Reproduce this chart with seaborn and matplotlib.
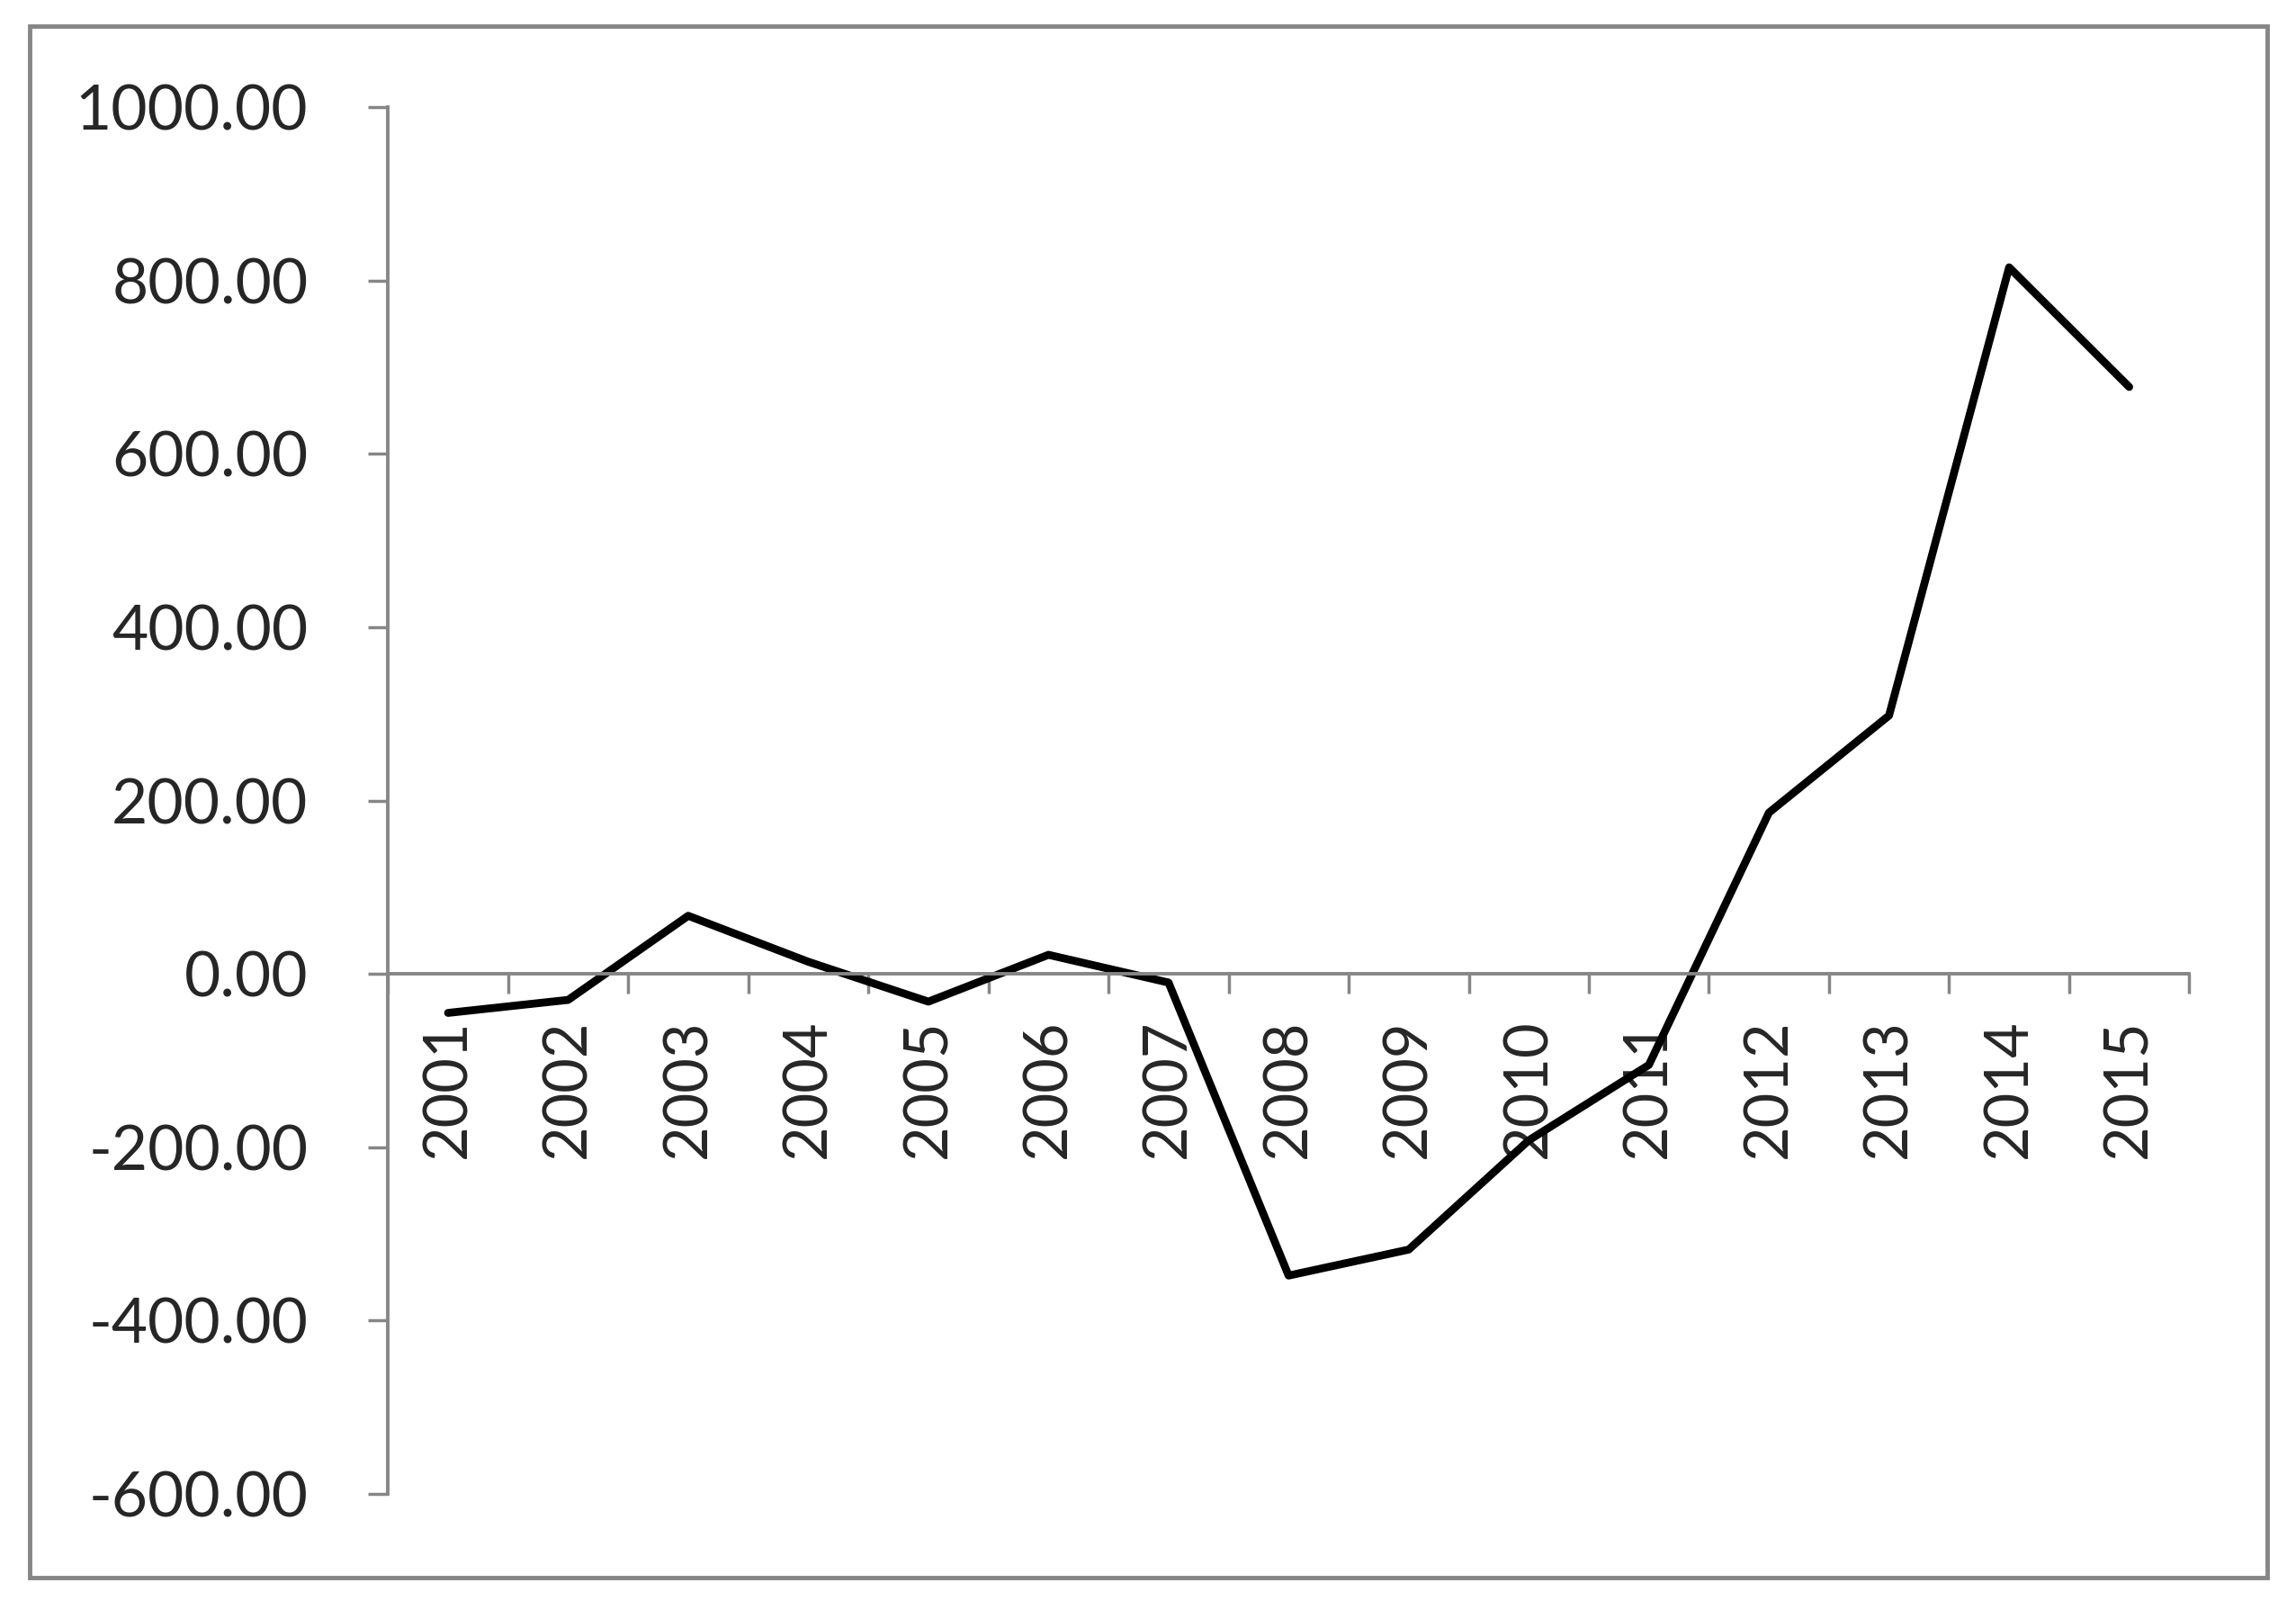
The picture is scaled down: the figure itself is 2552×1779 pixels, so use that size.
import numpy as np
import pandas as pd
import seaborn as sns
import matplotlib
matplotlib.use('Agg')
import matplotlib.pyplot as plt
from matplotlib.ticker import FormatStrFormatter

years = ['2001', '2002', '2003', '2004', '2005', '2006', '2007', '2008',
         '2009', '2010', '2011', '2012', '2013', '2014', '2015']
values = [-45, -30, 67, 14, -32, 22, -10, -348, -318, -192, -105, 186, 298, 815, 677]
yticks = [-600, -400, -200, 0, 200, 400, 600, 800, 1000]

sns.set_style('white')
plt.rcParams['font.family'] = ['Lato', 'DejaVu Sans']

grey = '#868686'

df = pd.DataFrame({'pos': np.arange(len(years)), 'value': values})

fig = plt.figure(figsize=(25.52, 17.79), dpi=100)
ax = fig.add_axes([0.169, 0.0668, 0.7845, 0.8664])

sns.lineplot(data=df, x='pos', y='value', ax=ax, color='black', lw=6.3)

ax.set_xlim(-0.5, len(years) - 0.5)
ax.set_ylim(-600, 1000)
ax.set_yticks(yticks)
ax.yaxis.set_major_formatter(FormatStrFormatter('%.2f'))

ax.set_xticks(np.arange(len(years)))
ax.set_xticks(np.arange(-0.5, len(years), 1), minor=True)
ax.tick_params(axis='x', which='major', bottom=True, length=0, pad=36,
               labelsize=48, labelrotation=90)
ax.tick_params(axis='x', which='minor', bottom=True, length=16, width=2.5,
               color=grey, direction='out')
ax.tick_params(axis='y', left=True, length=16, width=2.5, color=grey,
               direction='out', labelsize=50, pad=48)
ax.set_xticklabels(years)
for lab in ax.get_xticklabels():
    lab.set_family('DejaVu Sans')

for s in ['top', 'right']:
    ax.spines[s].set_visible(False)
ax.spines['bottom'].set_position(('data', 0))
for s in ['left', 'bottom']:
    ax.spines[s].set_color(grey)
    ax.spines[s].set_linewidth(2.8)

ax.set_xlabel('')
ax.set_ylabel('')

# outer chart border
fig.add_artist(plt.Rectangle((0.0128, 0.0146), 0.9745, 0.9690, transform=fig.transFigure,
                             fill=False, ec=grey, lw=3.5))

fig.savefig('out.png', dpi=100, facecolor='white')
